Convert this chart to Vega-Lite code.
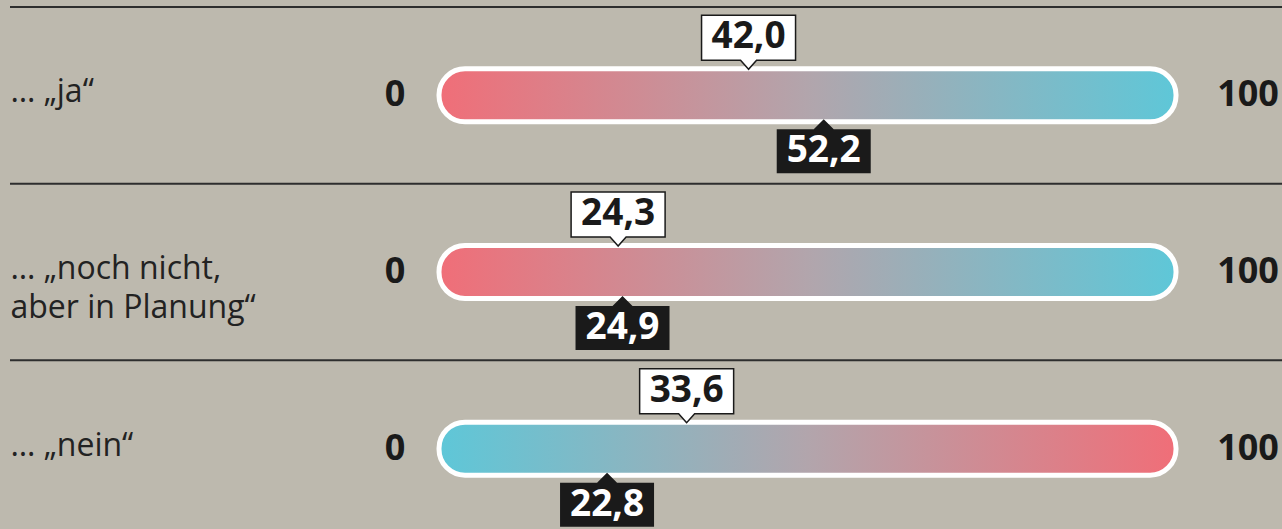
{
  "$schema": "https://vega.github.io/schema/vega-lite/v6.json",
  "width": 1272,
  "height": 530,
  "autosize": "none",
  "padding": {"left": 10, "top": 7, "right": 0, "bottom": 0},
  "background": "#bdb9ae",
  "config": {
    "view": {"stroke": null},
    "font": "Open Sans",
    "locale": {"number": {"decimal": ",", "thousands": ".", "grouping": [3], "currency": ["", " €"]}}
  },
  "data": {
    "values": [
      {"q": "… „ja“", "a": 42.0, "b": 52.2, "dir": "rb"},
      {"q": "… „noch nicht,\naber in Planung“", "a": 24.3, "b": 24.9, "dir": "rb"},
      {"q": "… „nein“", "a": 33.6, "b": 22.8, "dir": "br"}
    ]
  },
  "encoding": {
    "y": {
      "field": "q",
      "type": "nominal",
      "scale": {"domain": ["… „ja“", "… „noch nicht,\naber in Planung“", "… „nein“"], "paddingInner": 0, "paddingOuter": 0},
      "axis": {
        "title": null, "domain": false, "ticks": false, "grid": false,
        "labelAlign": "left", "labelPadding": 0, "labelFontSize": 32, "labelFont": "Open Sans",
        "labelColor": "#222222", "labelLimit": 0, "labelBaseline": "middle", "labelLineHeight": 39,
        "labelOffset": -3,
        "labelExpr": "split(datum.label, '\\n')"
      }
    }
  },
  "layer": [
    {
      "mark": {"type": "rule", "stroke": "#2e2e2e", "strokeWidth": 2},
      "encoding": {"y": {"field": "q", "type": "nominal", "bandPosition": 0}}
    },
    {
      "transform": [{"filter": "datum.dir === 'rb'"}],
      "mark": {
        "type": "bar", "cornerRadius": 26, "stroke": "white", "strokeWidth": 5, "size": 53,
        "fill": {"gradient": "linear", "x1": 0, "y1": 0, "x2": 1, "y2": 0,
          "stops": [{"offset": 0, "color": "#f06e78"}, {"offset": 0.5, "color": "#b2a5ac"}, {"offset": 1, "color": "#5ec7d8"}]}
      },
      "encoding": {
        "x": {"datum": 0, "type": "quantitative", "scale": {"domain": [-58.21, 114.38], "nice": false, "zero": false}, "axis": null},
        "x2": {"datum": 100}
      }
    },
    {
      "transform": [{"filter": "datum.dir === 'br'"}],
      "mark": {
        "type": "bar", "cornerRadius": 26, "stroke": "white", "strokeWidth": 5, "size": 53,
        "fill": {"gradient": "linear", "x1": 0, "y1": 0, "x2": 1, "y2": 0,
          "stops": [{"offset": 0, "color": "#5ec7d8"}, {"offset": 0.5, "color": "#b2a5ac"}, {"offset": 1, "color": "#f06e78"}]}
      },
      "encoding": {
        "x": {"datum": 0, "type": "quantitative", "scale": {"domain": [-58.21, 114.38], "nice": false, "zero": false}, "axis": null},
        "x2": {"datum": 100}
      }
    },
    {
      "mark": {"type": "point", "shape": "M0,-26L-8,-35L-47,-35L-47,-80L47,-80L47,-35L8,-35Z", "size": 4, "filled": true, "fill": "white", "stroke": "#1a1a1a", "strokeWidth": 1.5, "opacity": 1},
      "encoding": {"x": {"field": "a", "type": "quantitative", "scale": {"domain": [-58.21, 114.38], "nice": false, "zero": false}, "axis": null}}
    },
    {
      "mark": {"type": "point", "shape": "M0,24L-10,34L-47,34L-47,78L47,78L47,34L10,34Z", "size": 4, "filled": true, "fill": "#1a1a1a", "strokeWidth": 0, "opacity": 1},
      "encoding": {"x": {"field": "b", "type": "quantitative", "scale": {"domain": [-58.21, 114.38], "nice": false, "zero": false}, "axis": null}}
    },
    {
      "mark": {"type": "text", "dy": -58, "fontSize": 37, "fontWeight": "bold", "color": "#1a1a1a", "baseline": "middle", "align": "center"},
      "encoding": {
        "x": {"field": "a", "type": "quantitative", "scale": {"domain": [-58.21, 114.38], "nice": false, "zero": false}, "axis": null},
        "text": {"field": "a", "type": "quantitative", "format": ".1f"}
      }
    },
    {
      "mark": {"type": "text", "dy": 56, "fontSize": 37, "fontWeight": "bold", "color": "white", "baseline": "middle", "align": "center"},
      "encoding": {
        "x": {"field": "b", "type": "quantitative", "scale": {"domain": [-58.21, 114.38], "nice": false, "zero": false}, "axis": null},
        "text": {"field": "b", "type": "quantitative", "format": ".1f"}
      }
    },
    {
      "mark": {"type": "text", "dx": -44, "fontSize": 36, "fontWeight": "bold", "color": "#1a1a1a", "baseline": "middle", "align": "center"},
      "encoding": {
        "x": {"datum": 0, "type": "quantitative", "scale": {"domain": [-58.21, 114.38], "nice": false, "zero": false}, "axis": null},
        "text": {"value": "0"}
      }
    },
    {
      "mark": {"type": "text", "dx": 72, "fontSize": 36, "fontWeight": "bold", "color": "#1a1a1a", "baseline": "middle", "align": "center"},
      "encoding": {
        "x": {"datum": 100, "type": "quantitative", "scale": {"domain": [-58.21, 114.38], "nice": false, "zero": false}, "axis": null},
        "text": {"value": "100"}
      }
    }
  ]
}
